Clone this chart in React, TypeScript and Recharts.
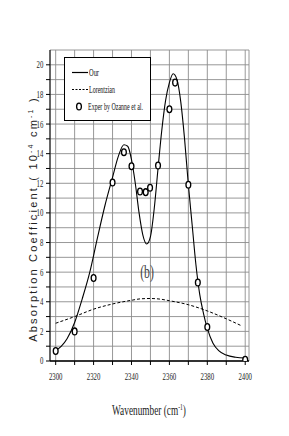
import React from 'react'
import { ComposedChart, Line, Scatter, XAxis, YAxis, CartesianGrid } from 'recharts'

// "Our" model curve
const ourX = [2300, 2303, 2306, 2310, 2314, 2318, 2322, 2326, 2330, 2333, 2336, 2338, 2340, 2342, 2344, 2346, 2348, 2350, 2352, 2354, 2356, 2358, 2360, 2362, 2364, 2366, 2368, 2370, 2372, 2374, 2376, 2378, 2380, 2383, 2386, 2390, 2395, 2400]
const ourY = [0.7, 1.0, 1.5, 2.6, 4.2, 6.0, 8.3, 10.5, 12.4, 13.8, 14.6, 14.5, 13.6, 12.0, 10.0, 8.5, 7.9, 8.4, 10.3, 13.0, 15.6, 17.6, 18.8, 19.4, 19.0, 17.5, 15.0, 11.9, 9.2, 6.5, 4.5, 3.2, 2.2, 1.2, 0.7, 0.4, 0.25, 0.2]

// Lorentzian curve
const lorX = [2300, 2310, 2320, 2330, 2340, 2345, 2350, 2355, 2360, 2370, 2380, 2390, 2398]
const lorY = [2.55, 3.0, 3.5, 3.85, 4.1, 4.2, 4.22, 4.18, 4.07, 3.8, 3.38, 2.85, 2.38]

// Experimental points (Ozanne et al.)
const expX = [2300, 2310, 2320, 2330, 2336, 2340, 2344.5, 2347.5, 2349.8, 2354, 2360, 2363, 2370, 2375, 2380, 2400]
const expY = [0.68, 2.0, 5.6, 12.05, 14.1, 13.15, 11.45, 11.4, 11.7, 13.2, 17.0, 18.8, 11.9, 5.3, 2.3, 0.08]

const xTicks = [2300, 2310, 2320, 2330, 2340, 2350, 2360, 2370, 2380, 2390, 2400]
const yTicks = [0, 1, 2, 3, 4, 5, 6, 7, 8, 9, 10, 11, 12, 13, 14, 15, 16, 17, 18, 19, 20]

const ourData = ourX.map((x, i) => ({ x, y: ourY[i] }))
const lorData = lorX.map((x, i) => ({ x, y: lorY[i] }))
const expData = expX.map((x, i) => ({ x, y: expY[i] }))

const serif = '"Liberation Serif", "Times New Roman", serif'
const sans = '"Liberation Sans", Arial, sans-serif'

const OpenEllipse = (props: any) => {
  const { cx, cy } = props
  return <ellipse cx={cx} cy={cy} rx={2.4} ry={3.4} fill="#fff" stroke="#000" strokeWidth={1.3} />
}

const XTick = ({ x, y, payload }: any) => {
  if (payload.value % 20 !== 0) return null
  return (
    <text x={x} y={y + 13} textAnchor="middle" fontFamily={serif} fontSize={10} fill="#222" transform={`translate(${x} 0) scale(0.68 1) translate(${-x} 0)`}>
      {payload.value}
    </text>
  )
}

const YTick = ({ x, y, payload }: any) => {
  if (payload.value % 2 !== 0) return null
  return (
    <text x={x - 1} y={y + 3.5} textAnchor="end" fontFamily={serif} fontSize={10} fill="#222" transform={`translate(${x} 0) scale(0.68 1) translate(${-x} 0)`}>
      {payload.value}
    </text>
  )
}

export default function App() {
  return (
    <div style={{ position: 'absolute', left: 0, top: 0, width: 289, height: 436, background: '#fff' }}>
      <ComposedChart width={289} height={436} margin={{ top: 50, right: 40, left: 10, bottom: 45 }}>
        <CartesianGrid stroke="#8c8c8c" strokeWidth={0.9} />
        <XAxis
          type="number"
          dataKey="x"
          domain={[2297, 2402]}
          ticks={xTicks}
          interval={0}
          height={30}
          tick={<XTick />}
          tickSize={4}
          axisLine={{ stroke: '#000', strokeWidth: 1.6 }}
          tickLine={{ stroke: '#000' }}
          allowDataOverflow
        />
        <YAxis
          type="number"
          dataKey="y"
          domain={[0, 21]}
          ticks={yTicks}
          interval={0}
          width={40}
          tick={<YTick />}
          tickSize={4}
          axisLine={{ stroke: '#000', strokeWidth: 1 }}
          tickLine={{ stroke: '#000' }}
          allowDataOverflow
        />
        <Line data={lorData} dataKey="y" type="monotone" stroke="#000" strokeWidth={1} strokeDasharray="3 2" dot={false} isAnimationActive={false} />
        <Line data={ourData} dataKey="y" type="monotone" stroke="#000" strokeWidth={1.1} dot={false} isAnimationActive={false} />
        <Scatter data={expData} dataKey="y" shape={<OpenEllipse />} isAnimationActive={false} />
      </ComposedChart>

      {/* titles, legend and panel tag */}
      <svg width={289} height={436} style={{ position: 'absolute', left: 0, top: 0, pointerEvents: 'none' }}>
        <rect x={64.5} y={57.5} width={86} height={63} fill="#fff" stroke="#000" strokeWidth={1} />
        <line x1={72} y1={72.5} x2={88} y2={72.5} stroke="#000" strokeWidth={1.2} />
        <text x={89} y={75.5} fontFamily={serif} fontSize={9.5} fill="#111" textLength={10} lengthAdjust="spacingAndGlyphs">Our</text>
        <line x1={72} y1={89.5} x2={88} y2={89.5} stroke="#000" strokeWidth={1} strokeDasharray="2 1.5" />
        <text x={89} y={92.5} fontFamily={serif} fontSize={9.5} fill="#111" textLength={26} lengthAdjust="spacingAndGlyphs">Lorentzian</text>
        <ellipse cx={79} cy={106.5} rx={2.4} ry={3.4} fill="#fff" stroke="#000" strokeWidth={1.3} />
        <text x={88} y={109.5} fontFamily={serif} fontSize={9.5} fill="#111" textLength={55} lengthAdjust="spacingAndGlyphs">Exper by Ozanne et al.</text>

        <text transform="translate(147 278) scale(0.62 1)" textAnchor="middle" fontFamily={serif} fontSize={19} fill="#444">(b)</text>

        <text transform="translate(37 219) rotate(-90)" textAnchor="middle" fontFamily={sans} fontSize={11} fill="#222" letterSpacing={2.2}>
          Absorption Coefficient ( 10<tspan dy={-4} fontSize={7}>-4</tspan><tspan dy={4}> cm</tspan><tspan dy={-4} fontSize={7}>-1</tspan><tspan dy={4}> )</tspan>
        </text>

        <text transform="translate(149 415) scale(0.62 1)" textAnchor="middle" fontFamily={serif} fontSize={15} fill="#222">
          Wavenumber (cm<tspan dy={-5} fontSize={9}>-1</tspan><tspan dy={5}>)</tspan>
        </text>
      </svg>
    </div>
  )
}
